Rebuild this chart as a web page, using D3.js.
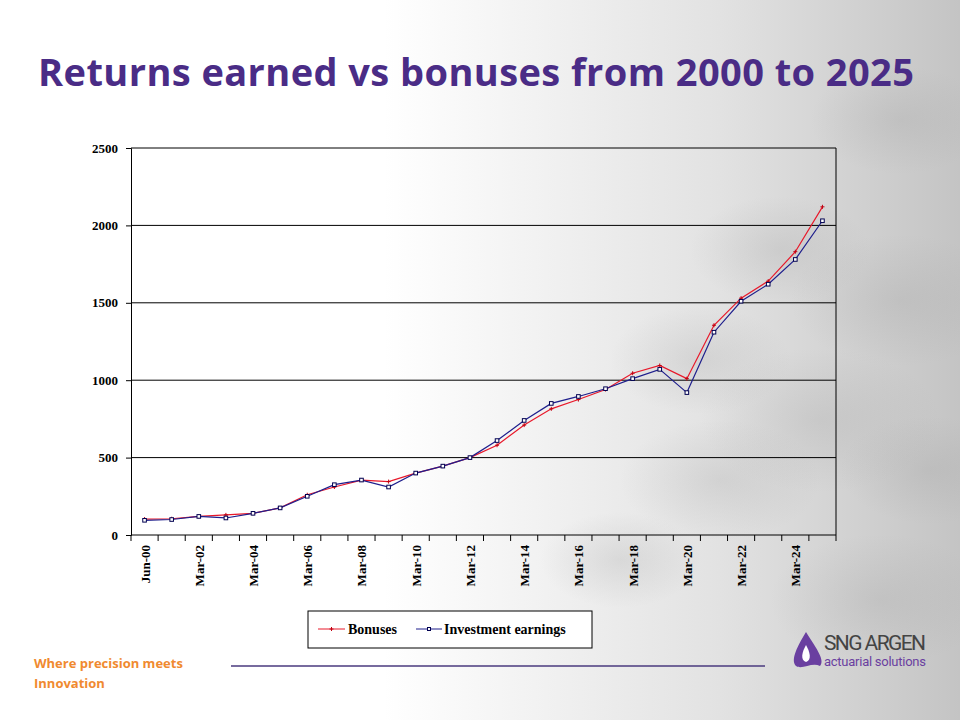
<!DOCTYPE html>
<html><head><meta charset="utf-8">
<script src="https://cdn.jsdelivr.net/npm/d3@7"></script>
<style>body{margin:0;background:#fff}</style>
</head><body>
<svg id="c" width="960" height="720"></svg>
<script>
const categories = ['Jun-00','Mar-01','Mar-02','Mar-03','Mar-04','Mar-05','Mar-06','Mar-07','Mar-08','Mar-09','Mar-10','Mar-11','Mar-12',
  'Mar-13','Mar-14','Mar-15','Mar-16','Mar-17','Mar-18','Mar-19','Mar-20','Mar-21','Mar-22','Mar-23','Mar-24','Mar-25'];
const bonuses = [103,105,120,130,140,175,260,310,355,345,400,445,500,580,710,815,875,940,1045,1095,1010,1355,1530,1640,1830,2120];
const investment = [95,100,120,110,140,175,250,325,355,310,400,445,500,610,740,850,895,945,1010,1070,920,1310,1510,1620,1780,2030];
const yTicks = [0,500,1000,1500,2000,2500];

const svg = d3.select('#c');
const defs = svg.append('defs');

// grey textured backdrop on the right
const bg = defs.append('linearGradient').attr('id', 'bg').attr('x1', 0).attr('x2', 1);
bg.append('stop').attr('offset', '0.4').attr('stop-color', '#fff');
bg.append('stop').attr('offset', '0.75').attr('stop-color', '#e2e2e2');
bg.append('stop').attr('offset', '1').attr('stop-color', '#c4c4c4');
svg.append('rect').attr('width', 960).attr('height', 720).attr('fill', 'url(#bg)');
const blob = defs.append('radialGradient').attr('id', 'blob');
blob.append('stop').attr('offset', 0).attr('stop-color', '#999').attr('stop-opacity', 0.22);
blob.append('stop').attr('offset', 1).attr('stop-color', '#999').attr('stop-opacity', 0);
[[900,300,110],[820,420,120],[930,470,90],[720,480,100],[880,600,110],[780,250,90],[620,560,80],[900,120,90],[700,360,90]]
  .forEach(([cx, cy, r]) => svg.append('ellipse').attr('cx', cx).attr('cy', cy).attr('rx', r).attr('ry', r * 0.6).attr('fill', 'url(#blob)'));

svg.append('text').attr('x', 476).attr('y', 86).attr('text-anchor', 'middle')
  .attr('font-family', 'Open Sans, sans-serif').attr('font-weight', 'bold').attr('font-size', 38)
  .attr('fill', '#4a2c86').attr('textLength', 876).text('Returns earned vs bonuses from 2000 to 2025');

const pLeft = 131, pRight = 836, pTop = 148, pBottom = 535;
const x = d3.scaleBand().domain(categories).range([pLeft, pRight]);
const y = d3.scaleLinear().domain([0, 2500]).range([pBottom, pTop]);

const g = svg.append('g');
g.selectAll('.grid').data(yTicks.slice(1)).join('line')
  .attr('x1', pLeft).attr('x2', pRight).attr('y1', d => y(d)).attr('y2', d => y(d))
  .attr('stroke', '#000').attr('stroke-width', 1);
g.append('line').attr('x1', pRight).attr('x2', pRight).attr('y1', pTop).attr('y2', pBottom).attr('stroke', '#000');

const yAxis = g.append('g').attr('transform', `translate(${pLeft},0)`)
  .call(d3.axisLeft(y).tickValues(yTicks).tickSize(5).tickFormat(d3.format('d')));
yAxis.selectAll('text').attr('font-family', 'Liberation Serif, serif').attr('font-weight', 'bold').attr('font-size', 13).attr('dx', -5);

const bounds = categories.map((c, i) => pLeft + i * x.step()).concat([pRight]);
g.append('line').attr('x1', pLeft).attr('x2', pRight).attr('y1', pBottom).attr('y2', pBottom).attr('stroke', '#000');
g.selectAll('.xt').data(bounds).join('line')
  .attr('x1', d => d).attr('x2', d => d).attr('y1', pBottom).attr('y2', pBottom + 6).attr('stroke', '#000');
g.selectAll('.xl').data(categories.filter((c, i) => i % 2 === 0)).join('text')
  .attr('transform', d => `translate(${x(d) + x.bandwidth() / 2 + 5},${pBottom + 10}) rotate(-90)`)
  .attr('text-anchor', 'end').attr('font-family', 'Liberation Serif, serif').attr('font-weight', 'bold')
  .attr('font-size', 13).text(d => d);

const cx = (d, i) => x(categories[i]) + x.bandwidth() / 2;
const line = d3.line().x(cx).y(d => y(d));
g.append('path').datum(bonuses).attr('d', line).attr('fill', 'none').attr('stroke', '#e8182a').attr('stroke-width', 1.2);
g.append('path').datum(investment).attr('d', line).attr('fill', 'none').attr('stroke', '#1e1e8c').attr('stroke-width', 1.2);
g.selectAll('.bm').data(bonuses).join('path')
  .attr('d', (d, i) => `M${cx(d, i) - 2},${y(d)}h4M${cx(d, i)},${y(d) - 2}v4`).attr('stroke', '#c00010');
g.selectAll('.im').data(investment).join('rect')
  .attr('x', (d, i) => cx(d, i) - 1.8).attr('y', d => y(d) - 1.8).attr('width', 3.6).attr('height', 3.6)
  .attr('fill', '#fff').attr('stroke', '#000050').attr('stroke-width', 1);

// legend
const lg = svg.append('g');
lg.append('rect').attr('x', 308).attr('y', 611).attr('width', 284).attr('height', 37).attr('fill', '#fff').attr('stroke', '#000');
lg.append('line').attr('x1', 318).attr('x2', 345).attr('y1', 629).attr('y2', 629).attr('stroke', '#e8182a');
lg.append('path').attr('d', 'M329.5,629h4M331.5,627v4').attr('stroke', '#c00010');
lg.append('text').attr('x', 348).attr('y', 634).attr('font-family', 'Liberation Serif, serif').attr('font-weight', 'bold').attr('font-size', 14).text('Bonuses');
lg.append('line').attr('x1', 416).attr('x2', 442).attr('y1', 629).attr('y2', 629).attr('stroke', '#1e1e8c');
lg.append('rect').attr('x', 427.5).attr('y', 627.5).attr('width', 3).attr('height', 3).attr('fill', '#fff').attr('stroke', '#000050');
lg.append('text').attr('x', 444).attr('y', 634).attr('font-family', 'Liberation Serif, serif').attr('font-weight', 'bold').attr('font-size', 14).text('Investment earnings');

// footer
svg.append('text').attr('x', 34).attr('y', 668).attr('font-family', 'Open Sans, sans-serif').attr('font-weight', 'bold')
  .attr('font-size', 13).attr('fill', '#f08a30').text('Where precision meets');
svg.append('text').attr('x', 34).attr('y', 688).attr('font-family', 'Open Sans, sans-serif').attr('font-weight', 'bold')
  .attr('font-size', 13).attr('fill', '#f08a30').text('Innovation');
svg.append('line').attr('x1', 231).attr('x2', 765).attr('y1', 666).attr('y2', 666).attr('stroke', '#4a3a7e').attr('stroke-width', 1.3);
svg.append('path').attr('d', 'M806,632 C798,645 790,660 796,666 C802,670 812,662 820,666 C826,660 814,645 806,632Z').attr('fill', '#6a3fa0');
svg.append('path').attr('d', 'M806,645 C802,652 800,660 806,662 C812,660 810,652 806,645Z').attr('fill', '#fff');
svg.append('text').attr('x', 824).attr('y', 650).attr('font-family', 'Liberation Sans Narrow, Roboto, sans-serif')
  .attr('font-size', 21).attr('fill', '#444').attr('textLength', 102).text('SNG ARGEN');
svg.append('text').attr('x', 824).attr('y', 666).attr('font-family', 'Liberation Sans Narrow, Roboto, sans-serif')
  .attr('font-size', 13).attr('fill', '#6a3fa0').attr('textLength', 102).text('actuarial solutions');
</script>
</body></html>
